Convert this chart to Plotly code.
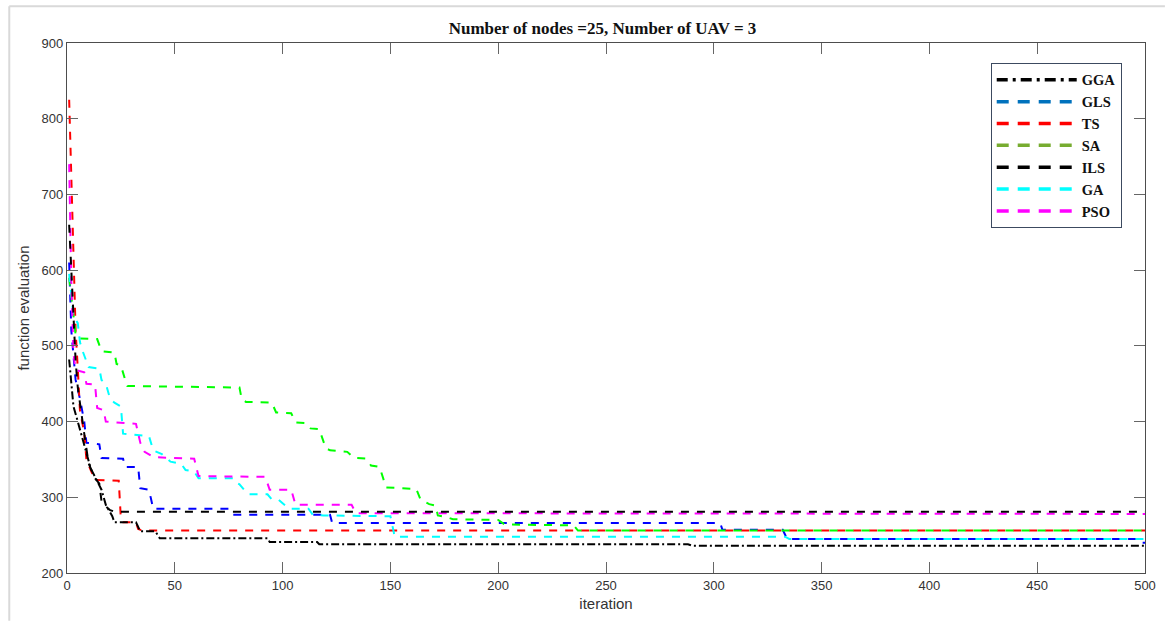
import plotly.graph_objects as go

# Convergence histories (iteration, best function evaluation) for each algorithm
gga_iter = [1, 2, 3, 5, 7, 9, 11, 13, 16, 18, 21, 22, 32, 34, 41, 43, 93, 94, 116, 117, 288, 290, 500]
gga_val = [482, 445, 420, 400, 380, 360, 338, 327, 310, 290, 275, 267, 267, 255, 255, 246, 246, 241, 241, 238, 238, 236, 236]

gls_iter = [1, 2, 4, 6, 8, 9, 15, 16, 26, 27, 33, 34, 38, 40, 75, 77, 122, 123, 303, 304, 332, 334, 496, 498, 500]
gls_val = [610, 520, 455, 430, 400, 372, 370, 352, 351, 340, 340, 312, 310, 285, 285, 277, 277, 266, 266, 257, 257, 245, 245, 240, 240]

ts_iter = [1, 2, 3, 4, 5, 6, 8, 9, 11, 13, 24, 25, 26, 32, 33, 35, 500]
ts_val = [825, 720, 610, 520, 470, 415, 385, 350, 336, 323, 322, 271, 267, 267, 258, 256, 256]

sa_iter = [1, 2, 3, 4, 5, 14, 16, 22, 23, 25, 27, 28, 80, 81, 83, 95, 97, 104, 106, 111, 113, 117, 120, 122,
           130, 133, 139, 141, 145, 148, 162, 164, 168, 171, 172, 176, 179, 200, 203, 235, 237, 500]
sa_val = [590, 565, 535, 515, 510, 509, 493, 491, 476, 474, 455, 447, 445, 430, 426, 425, 412, 411, 399, 398, 391, 390, 365, 362,
          360, 352, 351, 342, 340, 313, 311, 297, 291, 289, 276, 274, 271, 270, 264, 263, 256, 256]

ils_iter = [1, 2, 3, 4, 5, 7, 8, 10, 13, 15, 16, 18, 20, 22, 500]
ils_val = [660, 600, 530, 480, 445, 400, 384, 345, 325, 318, 295, 288, 283, 281, 281]

ga_iter = [1, 2, 3, 5, 6, 7, 10, 15, 16, 18, 20, 22, 25, 26, 38, 40, 44, 48, 53, 55, 59, 61, 77, 78, 80, 84,
           93, 95, 98, 103, 112, 114, 119, 150, 152, 333, 335, 500]
ga_val = [595, 565, 540, 530, 505, 495, 472, 470, 455, 450, 430, 425, 420, 384, 381, 362, 357, 347, 344, 336, 334, 325, 325, 320, 317, 304,
          304, 297, 297, 285, 285, 277, 276, 275, 248, 248, 245, 245]

pso_iter = [1, 2, 3, 4, 8, 9, 13, 14, 17, 18, 27, 32, 34, 36, 39, 40, 59, 61, 92, 94, 104, 106, 132, 134, 500]
pso_val = [740, 585, 490, 468, 465, 450, 449, 418, 415, 400, 398, 397, 372, 360, 355, 353, 351, 328, 327, 310, 310, 290, 290, 279, 278]

names = ["GGA", "GLS", "TS", "SA", "ILS", "GA", "PSO"]
line_colors = ["#000000", "#0000FF", "#FF0000", "#00FF00", "#000000", "#00FFFF", "#FF00FF"]
legend_colors = ["#000000", "#0072BD", "#FF0000", "#77AC30", "#000000", "#00FFFF", "#FF00FF"]

x_ticks = [0, 50, 100, 150, 200, 250, 300, 350, 400, 450, 500]
y_ticks = [200, 300, 400, 500, 600, 700, 800, 900]

series = [
    (gga_iter, gga_val),
    (gls_iter, gls_val),
    (ts_iter, ts_val),
    (sa_iter, sa_val),
    (ils_iter, ils_val),
    (ga_iter, ga_val),
    (pso_iter, pso_val),
]

DASHED = "8px,8px"
DASHDOT = "8px,3px,2px,3px"

fig = go.Figure()

# actual curves
draw_order = [1, 2, 3, 5, 6, 4, 0]
for i in draw_order:
    xs, ys = series[i]
    fig.add_trace(go.Scatter(
        x=xs, y=ys, mode="lines", name=names[i], showlegend=False,
        line=dict(color=line_colors[i], width=2, dash=DASHDOT if i == 0 else DASHED),
        hoverinfo="skip",
    ))

# legend entries
for i, nm in enumerate(names):
    fig.add_trace(go.Scatter(
        x=[None], y=[None], mode="lines", name=nm, showlegend=True,
        line=dict(color=legend_colors[i], width=3.5,
                  dash="11px,5px,3px,5px" if i == 0 else "12px,9px"),
    ))

axis_common = dict(
    showline=True, linecolor="#4d4d4d", linewidth=1.3, mirror="allticks",
    ticks="inside", ticklen=11, tickwidth=1, tickcolor="#666666",
    showgrid=False, zeroline=False,
    tickfont=dict(family="Liberation Sans, Arial, sans-serif", size=13, color="#333333"),
)

fig.update_xaxes(
    range=[0, 500], tickvals=x_ticks, ticktext=[str(v) for v in x_ticks],
    title=dict(text="iteration", font=dict(family="Liberation Sans, Arial, sans-serif", size=15, color="#333333"),
               standoff=6),
    **axis_common,
)
fig.update_yaxes(
    range=[200, 900], tickvals=y_ticks, ticktext=[str(v) for v in y_ticks],
    title=dict(text="function evaluation", font=dict(family="Liberation Sans, Arial, sans-serif", size=15, color="#333333"),
               standoff=8),
    **axis_common,
)

W, H = 1168, 621
ML, MR, MT, MB = 67, 18, 43, 44
pw, ph = W - ML - MR, H - MT - MB


def px_x(p):
    return (p - ML) / pw


def px_y(p):
    return (H - MB - p) / ph


# light outer frame of the figure window
fig.add_shape(type="line", xref="paper", yref="paper",
              x0=px_x(9), x1=px_x(1170), y0=px_y(6), y1=px_y(6),
              line=dict(color="#d9d9d9", width=2))
fig.add_shape(type="line", xref="paper", yref="paper",
              x0=px_x(9), x1=px_x(9), y0=px_y(6), y1=px_y(625),
              line=dict(color="#d9d9d9", width=2))

fig.update_layout(
    width=W, height=H,
    margin=dict(l=ML, r=MR, t=MT, b=MB),
    paper_bgcolor="white", plot_bgcolor="white",
    title=dict(text="<b>Number of nodes =25, Number of UAV = 3</b>",
               font=dict(family="Liberation Serif, Times New Roman, serif", size=17, color="#111111"),
               x=px_x(605), xanchor="center", xref="paper", y=1 - 28 / H, yanchor="middle"),
    legend=dict(
        x=px_x(995), y=px_y(63), xanchor="left", yanchor="top",
        bgcolor="white", bordercolor="#3c4a60", borderwidth=1,
        font=dict(family="Liberation Serif, Times New Roman, serif", size=14.5, color="#111111", weight="bold"),
        itemwidth=80, tracegroupgap=0,
    ),
)

fig.write_html("out.html")
